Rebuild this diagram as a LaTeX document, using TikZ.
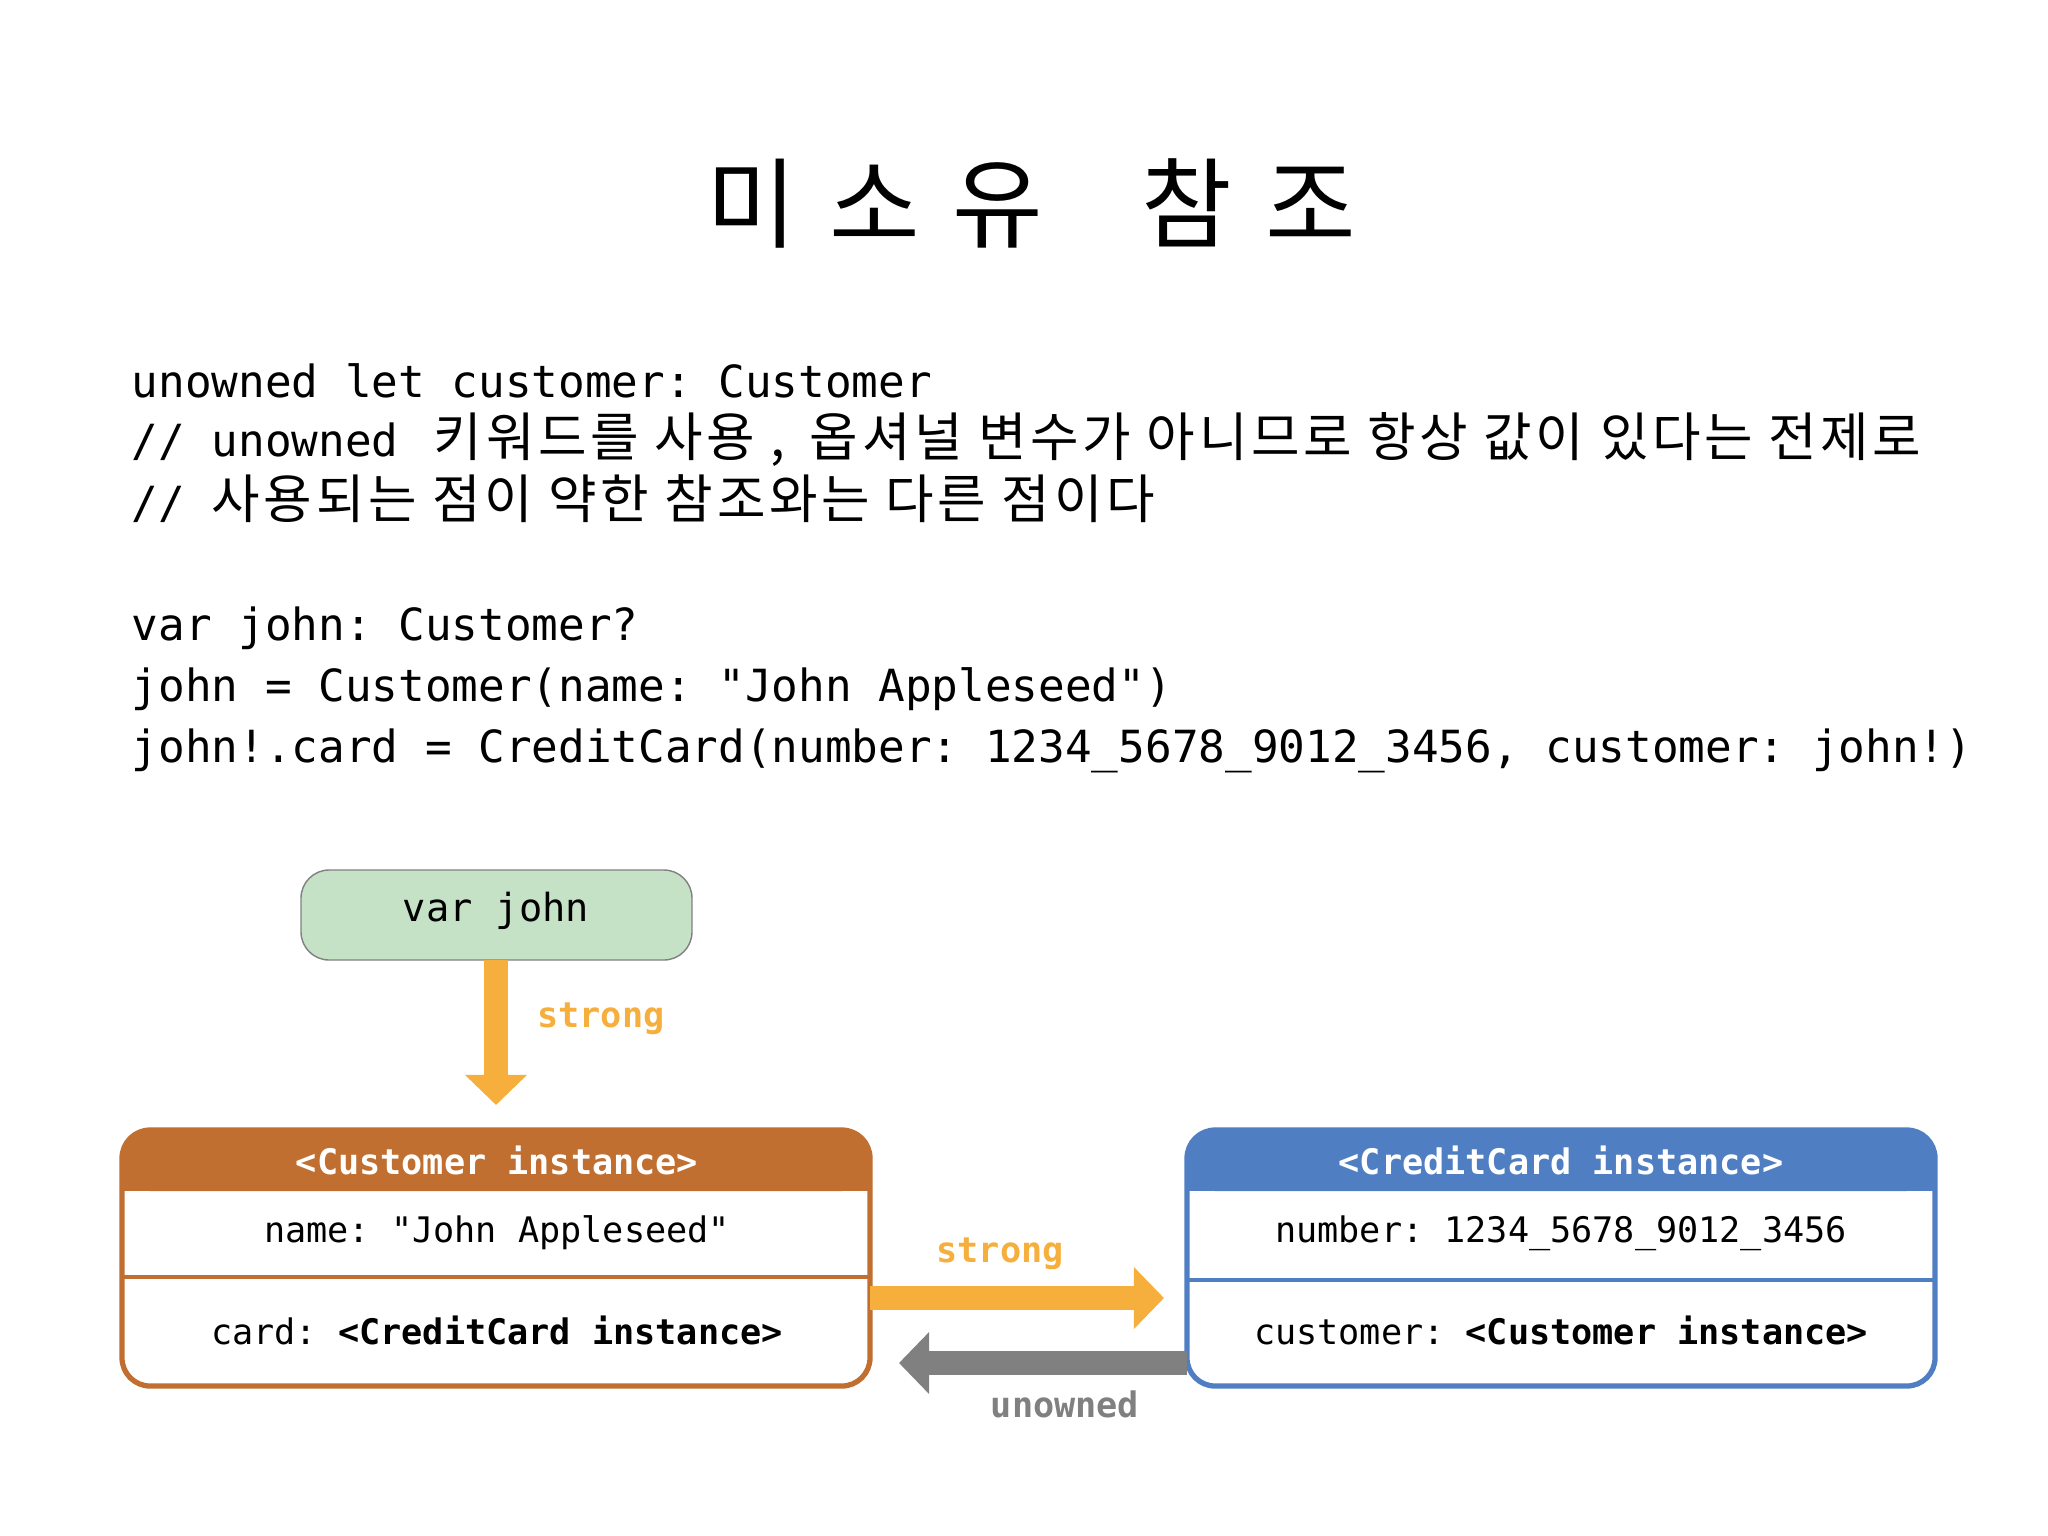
\documentclass[tikz,border=0pt]{standalone}
\usepackage{fontspec}
\setmonofont{DejaVu Sans Mono}
\newfontfamily\kr{Noto Sans CJK KR}
\newfontfamily\krw{Noto Sans CJK KR}[LetterSpace=7]
\usetikzlibrary{arrows.meta}
\definecolor{org}{HTML}{F6AE3C}
\definecolor{hdrO}{HTML}{C06F30}
\definecolor{hdrB}{HTML}{4F7FC2}
\definecolor{grn}{HTML}{C5E2C6}
\definecolor{gry}{HTML}{808080}
\tikzset{
 code/.style={anchor=west,font=\fontsize{12.6}{15}\selectfont\ttfamily,inner sep=0},
 cell/.style={font=\fontsize{10}{12}\selectfont\ttfamily,inner sep=0},
 lbl/.style={font=\fontsize{10}{12}\selectfont\ttfamily\bfseries,inner sep=0},
 arr/.style={line width=0.24cm,-{Triangle[length=0.3cm,width=0.6cm]}},
}
\newcommand{\kk}[1]{{\krw\fontsize{15}{18}\selectfont #1}}
\begin{document}
\begin{tikzpicture}[x=0.01cm,y=-0.01cm]
\useasboundingbox (0,0) rectangle (2048,1536);
\node[font=\kr\fontsize{28}{34}\selectfont] (title) at (1031,203) {미\,\,소\,\,유\quad 참\,\,조};
\node[code] (l1) at (131,381) {unowned let customer: Customer};
\node[code] (l2) at (131,440) {// unowned \kk{\,키워드를 사용 ,\, 옵셔널 변수가 아니므로 항상 값이 있다는 전제로}};
\node[code] (l3) at (131,499) {// \kk{사용되는 점이 약한 참조와는 다른 점이다}};
\node[code] (l4) at (131,628) {var john: Customer?};
\node[code] (l5) at (131,689) {john = Customer(name: "John Appleseed")};
\node[code] (l6) at (131,751) {john!.card = CreditCard(number: 1234\_5678\_9012\_3456, customer: john!)};
% var john
\draw[gry,fill=grn,rounded corners=8] (301,870) rectangle (692,960);
\node[cell,font=\fontsize{11}{13}\selectfont\ttfamily] (vj) at (496,911) {var john};
\coordinate (vjb) at (496,960);
\coordinate (ct) at (496,1105);
\draw[org,arr] (vjb) -- (ct);
\node[lbl,text=org] (s1) at (601,1019) {strong};
% customer box
\fill[hdrO,rounded corners=8] (122,1130) rectangle (870,1191);
\fill[hdrO] (122,1170) rectangle (870,1191);
\draw[hdrO,line width=1.5pt,rounded corners=8] (122,1130) rectangle (870,1386);
\draw[hdrO,line width=1pt] (122,1277) -- (870,1277);
\node[lbl,text=white] (ch) at (497,1160) {<Customer instance>};
\node[cell] (cn) at (497,1233) {name: "John Appleseed"};
\node[cell] (cc) at (497,1330) {card: \textbf{<CreditCard instance>}};
% creditcard box
\fill[hdrB,rounded corners=8] (1187,1130) rectangle (1935,1191);
\fill[hdrB] (1187,1170) rectangle (1935,1191);
\draw[hdrB,line width=1.5pt,rounded corners=8] (1187,1130) rectangle (1935,1386);
\draw[hdrB,line width=1pt] (1187,1280) -- (1935,1280);
\node[lbl,text=white] (bh) at (1561,1160) {<CreditCard instance>};
\node[cell] (bn) at (1561,1233) {number: 1234\_5678\_9012\_3456};
\node[cell] (bc) at (1561,1330) {customer: \textbf{<Customer instance>}};
% arrows
\coordinate (a1) at (870,1298); \coordinate (a2) at (1164,1298);
\draw[org,arr] (a1) -- (a2);
\node[lbl,text=org] (s2) at (1000,1254) {strong};
\coordinate (b1) at (1187,1363); \coordinate (b2) at (899,1363);
\draw[gry,arr] (b1) -- (b2);
\node[lbl,text=gry] (un) at (1065,1404) {unowned};
\end{tikzpicture}
\end{document}
